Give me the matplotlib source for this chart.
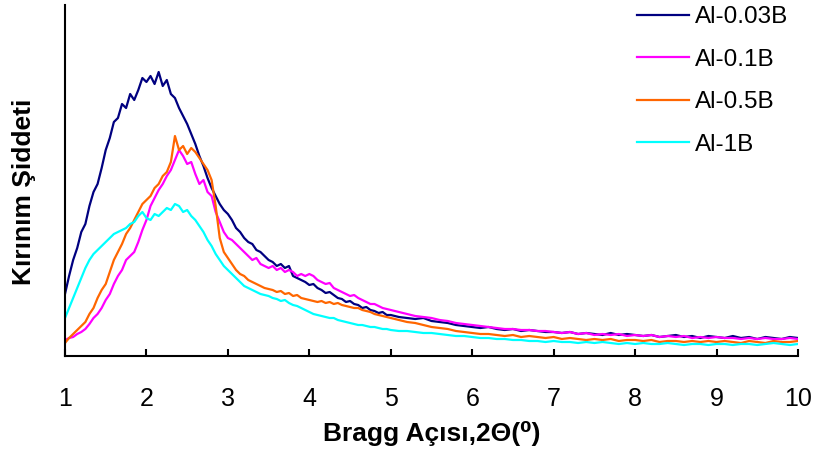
import numpy as np
import matplotlib
matplotlib.use("Agg")
import matplotlib.pyplot as plt

plt.rcParams['font.family'] = ['Liberation Sans', 'DejaVu Sans']

# 2-theta grid: 0.05 steps up to 5, then 0.1 steps
two_theta = np.concatenate([np.round(np.arange(1.0, 5.001, 0.05), 2),
                            np.round(np.arange(5.1, 10.001, 0.1), 2)])

al_003b = [62, 80, 96, 108, 124, 132, 150, 164, 172, 188,
           206, 218, 234, 238, 252, 248, 262, 256, 266, 278,
           274, 280, 272, 284, 270, 276, 262, 258, 248, 240,
           232, 222, 212, 200, 190, 178, 168, 160, 152, 146,
           142, 136, 128, 124, 118, 114, 112, 106, 104, 100,
           96, 94, 90, 92, 88, 90, 80, 78, 76, 74,
           71, 72, 68, 66, 63, 64, 61, 58, 57, 54,
           55, 52, 51, 48, 49, 46, 45, 43, 44, 41,
           41,
           39, 38, 37, 38, 35, 34, 33, 31, 30, 29,
           28, 29, 27, 26, 27, 25, 26, 25, 24, 24,
           23, 24, 22, 23, 22, 21, 23, 21, 22, 21,
           20, 21, 19, 20, 21, 19, 20, 18, 20, 19,
           18, 20, 18, 19, 17, 19, 18, 17, 19, 18]

al_01b = [16, 18, 19, 22, 24, 27, 32, 38, 42, 48,
          56, 62, 72, 80, 86, 96, 100, 104, 114, 126,
          136, 150, 158, 166, 172, 180, 186, 196, 206, 200,
          192, 194, 182, 172, 176, 164, 160, 144, 134, 124,
          118, 116, 112, 108, 104, 100, 96, 98, 92, 90,
          88, 90, 86, 88, 84, 86, 84, 80, 82, 80,
          82, 80, 76, 74, 72, 73, 68, 66, 64, 62,
          60, 61, 58, 56, 54, 52, 52, 50, 48, 47,
          46,
          44, 42, 40, 39, 38, 36, 35, 33, 32, 31,
          30, 29, 28, 27, 27, 26, 26, 25, 25, 24,
          23, 24, 22, 23, 21, 22, 21, 22, 20, 21,
          20, 21, 19, 20, 19, 20, 18, 19, 18, 19,
          18, 18, 17, 18, 17, 18, 17, 17, 18, 17]

al_05b = [13, 18, 22, 26, 30, 34, 42, 48, 58, 66,
          72, 84, 96, 104, 112, 122, 128, 136, 144, 152,
          156, 160, 168, 172, 180, 184, 194, 220, 206, 210,
          202, 208, 204, 198, 192, 186, 176, 150, 118, 104,
          98, 92, 86, 82, 80, 76, 74, 72, 70, 68,
          67, 66, 64, 65, 62, 63, 60, 61, 58, 57,
          56, 55, 54, 55, 53, 54, 52, 53, 51, 50,
          49, 48, 48, 46, 45, 44, 42, 41, 40, 39,
          38,
          36, 34, 33, 31, 29, 28, 27, 25, 24, 23,
          22, 22, 21, 20, 21, 19, 20, 19, 18, 19,
          17, 18, 17, 16, 17, 16, 17, 15, 16, 16,
          15, 16, 14, 15, 15, 14, 15, 14, 15, 14,
          15, 14, 13, 15, 14, 13, 15, 14, 14, 15]

al_1b = [38, 48, 58, 68, 78, 88, 96, 102, 106, 110,
         114, 118, 122, 124, 126, 128, 132, 134, 140, 144,
         138, 136, 142, 140, 144, 148, 146, 152, 150, 144,
         146, 140, 136, 130, 124, 116, 110, 102, 96, 90,
         86, 82, 78, 74, 70, 68, 66, 64, 62, 61,
         60, 58, 57, 55, 56, 53, 51, 50, 48, 46,
         44, 42, 41, 40, 39, 38, 38, 36, 35, 34,
         33, 32, 31, 31, 30, 29, 29, 28, 27, 27,
         26,
         25, 25, 24, 23, 23, 22, 21, 20, 20, 19,
         18, 18, 17, 17, 16, 16, 15, 15, 14, 15,
         14, 14, 13, 14, 13, 14, 13, 12, 13, 12,
         13, 12, 12, 13, 12, 11, 12, 12, 11, 12,
         12, 11, 12, 12, 11, 12, 13, 12, 11, 12]

labels = ['Al-0.03B', 'Al-0.1B', 'Al-0.5B', 'Al-1B']
colors = ['#000080', '#FF00FF', '#FF6600', '#00FFFF']
series = [al_003b, al_01b, al_05b, al_1b]

fig = plt.figure(figsize=(8.14, 4.59), dpi=100)
ax = fig.add_axes([65/814, 103/459, 733/814, 351/459])

for y, c, lab in zip(series, colors, labels):
    ax.plot(two_theta, y, color=c, lw=1.6, label=lab)

ax.set_xlim(1, 10)
ax.set_ylim(0, 351)
ax.set_xticks(range(1, 11))
ax.set_yticks([])
ax.spines['top'].set_visible(False)
ax.spines['right'].set_visible(False)
ax.spines['left'].set_linewidth(1.5)
ax.spines['bottom'].set_linewidth(1.5)
ax.tick_params(axis='x', direction='in', length=5, width=1.5, pad=22, labelsize=18)

ax.set_xlabel('Bragg Açısı,2Θ(⁰)', fontsize=19, fontweight='bold')
ax.xaxis.set_label_coords(0.5, -0.185)
ax.set_ylabel('Kırınım Şiddeti', fontsize=19, fontweight='bold')
ax.yaxis.set_label_coords(-0.040, 0.467)

ax.legend(loc='upper left', bbox_to_anchor=(637/814, 0.986), bbox_transform=fig.transFigure,
          frameon=False, fontsize=17.5, handlelength=2.15, handletextpad=0.25,
          labelspacing=0.84, borderpad=0, borderaxespad=0)

fig.savefig('out.png', dpi=100)
